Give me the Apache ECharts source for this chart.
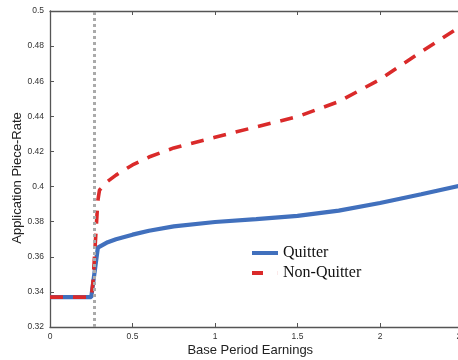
<!DOCTYPE html>
<html>
<head>
<meta charset="utf-8">
<script src="https://cdn.jsdelivr.net/npm/echarts@6/dist/echarts.min.js"></script>
<style>html,body{margin:0;padding:0;background:#fff;}#c{width:458px;height:360px;}</style>
</head>
<body>
<div id="c"></div>
<script>
// Data
const earnings = [0, 0.25, 0.26, 0.29, 0.30, 0.35, 0.40, 0.50, 0.60, 0.75, 1.00, 1.25, 1.50, 1.75, 2.00, 2.25, 2.50];
const quitter    = [0.337, 0.337, 0.337, 0.3652, 0.3662, 0.3683, 0.3700, 0.3726, 0.3748, 0.3773, 0.3798, 0.3815, 0.3833, 0.3863, 0.3906, 0.3956, 0.4008];
const nonQuitter = [0.337, 0.337, 0.345, 0.392, 0.398, 0.403, 0.4065, 0.4123, 0.4168, 0.4220, 0.4281, 0.4340, 0.4398, 0.4484, 0.4610, 0.4768, 0.4920];
const cutoff = 0.273;
const seriesNames = ['Quitter', 'Non-Quitter'];
const xTicks = [0, 0.5, 1, 1.5, 2, 2.5];
const yTicks = [0.32, 0.34, 0.36, 0.38, 0.4, 0.42, 0.44, 0.46, 0.48, 0.5];

const pairs = (xs, ys) => xs.map((x, i) => [x, ys[i]]);
const axisColor = '#555';
const blue = '#4170bd', red = '#da2a2a';
const tickFont = { fontFamily: 'Liberation Sans', fontSize: 8.5, color: '#333' };

const chart = echarts.init(document.getElementById('c'), null, { renderer: 'canvas' });
chart.setOption({
  animation: false,
  backgroundColor: '#fff',
  grid: { left: 50, top: 11, right: -4.5, bottom: 33, containLabel: false, outerBoundsMode: 'none' },
  xAxis: [{
    type: 'value', min: xTicks[0], max: xTicks[xTicks.length - 1], interval: 0.5,
    position: 'bottom',
    name: 'Base Period Earnings', nameLocation: 'middle', nameGap: 17, nameMoveOverlap: false,
    nameTextStyle: { fontFamily: 'Liberation Sans', fontSize: 13, color: '#222', padding: [0, 12, 0, 0] },
    axisLine: { lineStyle: { color: axisColor, width: 1.3 } },
    axisTick: { inside: true, length: 4, lineStyle: { color: axisColor, width: 1 } },
    axisLabel: Object.assign({ margin: 5, showMaxLabel: true, hideOverlap: false }, tickFont),
    splitLine: { show: false }
  }, {
    type: 'value', min: xTicks[0], max: xTicks[xTicks.length - 1], interval: 0.5,
    position: 'top',
    axisLine: { lineStyle: { color: axisColor, width: 1.3 } },
    axisTick: { inside: true, length: 4, lineStyle: { color: axisColor, width: 1 } },
    axisLabel: { show: false },
    splitLine: { show: false }
  }],
  yAxis: [{
    type: 'value', min: yTicks[0], max: yTicks[yTicks.length - 1], interval: 0.02,
    name: 'Application Piece-Rate', nameLocation: 'middle', nameGap: 26, nameRotate: 90, nameMoveOverlap: false,
    nameTextStyle: { fontFamily: 'Liberation Sans', fontSize: 13, color: '#222', padding: [0, 18, 0, 0] },
    axisLine: { show: true, lineStyle: { color: axisColor, width: 1.3 } },
    axisTick: { show: true, inside: true, length: 4, lineStyle: { color: axisColor, width: 1 } },
    axisLabel: Object.assign({ margin: 6, formatter: v => String(+v.toFixed(2)) }, tickFont),
    splitLine: { show: false }
  }],
  legend: {
    orient: 'vertical', left: 252, top: 245, padding: 0,
    itemWidth: 26, itemHeight: 4, itemGap: 4,
    textStyle: { fontFamily: 'Liberation Serif', fontSize: 16, color: '#111' },
    data: [
      { name: seriesNames[0], icon: 'rect', itemStyle: { color: blue } },
      { name: seriesNames[1], icon: 'path://M0 0H11V4H0Z M25.9 0H26V4H25.9Z', itemStyle: { color: red } }
    ]
  },
  series: [{
    name: seriesNames[0], type: 'line', data: pairs(earnings, quitter),
    symbol: 'none', smooth: false,
    lineStyle: { color: blue, width: 4.2 },
    itemStyle: { color: blue },
    z: 3
  }, {
    name: seriesNames[1], type: 'line', data: pairs(earnings, nonQuitter),
    symbol: 'none', smooth: false,
    lineStyle: { color: red, width: 3.6, type: [13, 10] },
    itemStyle: { color: red },
    z: 4,
    markLine: {
      silent: true, symbol: 'none', label: { show: false },
      lineStyle: { color: '#aaaaaa', width: 3, type: [3, 3] },
      data: [{ xAxis: cutoff }],
      z: 5
    }
  }]
});
</script>
</body>
</html>
